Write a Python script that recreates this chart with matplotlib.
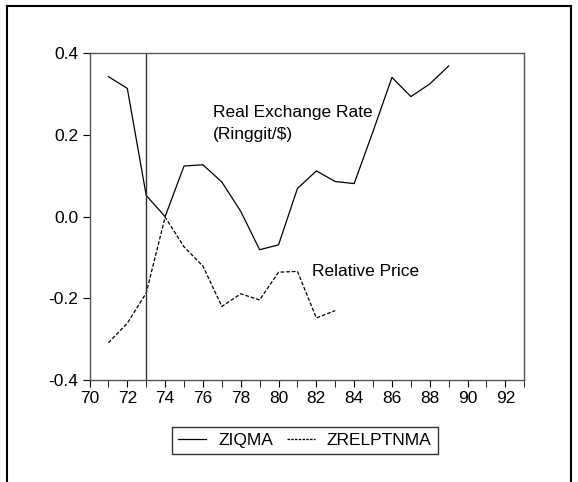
import matplotlib
matplotlib.use("Agg")
import matplotlib.pyplot as plt
from matplotlib.lines import Line2D

plt.rcParams['font.family'] = ['Liberation Sans', 'DejaVu Sans']

years_q = list(range(71, 90))
ziqma = [0.343, 0.314, 0.052, 0.0, 0.124, 0.127, 0.085, 0.013, -0.081, -0.069,
         0.069, 0.112, 0.086, 0.081, 0.209, 0.341, 0.294, 0.325, 0.369]
years_r = list(range(71, 84))
zrelptnma = [-0.309, -0.261, -0.187, -0.001, -0.074, -0.121, -0.220, -0.189,
             -0.204, -0.136, -0.134, -0.248, -0.230]
x_ticks = list(range(70, 93, 2))
y_ticks = [-0.4, -0.2, 0.0, 0.2, 0.4]
vline_year = 73

FS = 12.5
W, H = 578, 482
fig = plt.figure(figsize=(W / 100, H / 100), dpi=100)
ax = fig.add_axes([89.5 / W, 1 - 380 / H, (524.3 - 89.5) / W, (380 - 53.3) / H])

ax.plot(years_q, ziqma, color='black', lw=0.9, label='ZIQMA')
ax.plot(years_r, zrelptnma, color='black', lw=0.9, ls=(0, (3, 1.5)), label='ZRELPTNMA')
ax.axvline(vline_year, color='#333333', lw=1.0)

ax.set_xlim(70, 93)
ax.set_ylim(-0.4, 0.4)
ax.set_xticks(x_ticks)
ax.set_xticks(list(range(70, 94)), minor=True)
ax.set_xticklabels([str(t) for t in x_ticks])
ax.set_yticks(y_ticks)
ax.set_yticklabels([f"{t:.1f}" for t in y_ticks])
ax.tick_params(axis='both', which='both', direction='out', labelsize=FS, colors='black')
ax.tick_params(axis='x', which='major', length=5, pad=3)
ax.tick_params(axis='x', which='minor', length=5)
ax.tick_params(axis='y', length=5, pad=3)
for s in ax.spines.values():
    s.set_color('#555555')
    s.set_linewidth(1.0)

fig.text(213 / W, 1 - 112.7 / H, 'Real Exchange Rate', fontsize=FS, va='center', ha='left')
fig.text(213 / W, 1 - 135 / H, '(Ringgit/$)', fontsize=FS, va='center', ha='left')
fig.text(312 / W, 1 - 271 / H, 'Relative Price', fontsize=FS, va='center', ha='left')

handles = [Line2D([], [], color='black', lw=0.9),
           Line2D([], [], color='black', lw=0.9, ls=(0, (2, 1)))]
leg = fig.legend(handles, ['ZIQMA', 'ZRELPTNMA'], ncol=2,
                 loc='center', bbox_to_anchor=((173 + 437) / 2 / W, 1 - 440.5 / H),
                 fontsize=FS, frameon=True, fancybox=False, edgecolor='black',
                 handlelength=1.6, handletextpad=0.7, columnspacing=0.8,
                 borderpad=0.35, borderaxespad=0)
leg.get_frame().set_linewidth(1.0)

# outer frame
fig.add_artist(Line2D([7 / W, 7 / W], [0, 1 - 6 / H], transform=fig.transFigure, color='black', lw=1.5))
fig.add_artist(Line2D([7 / W, 571 / W], [1 - 6 / H, 1 - 6 / H], transform=fig.transFigure, color='black', lw=1.5))
fig.add_artist(Line2D([571 / W, 571 / W], [0, 1 - 6 / H], transform=fig.transFigure, color='black', lw=1.5))

fig.savefig('out.png', dpi=100)
